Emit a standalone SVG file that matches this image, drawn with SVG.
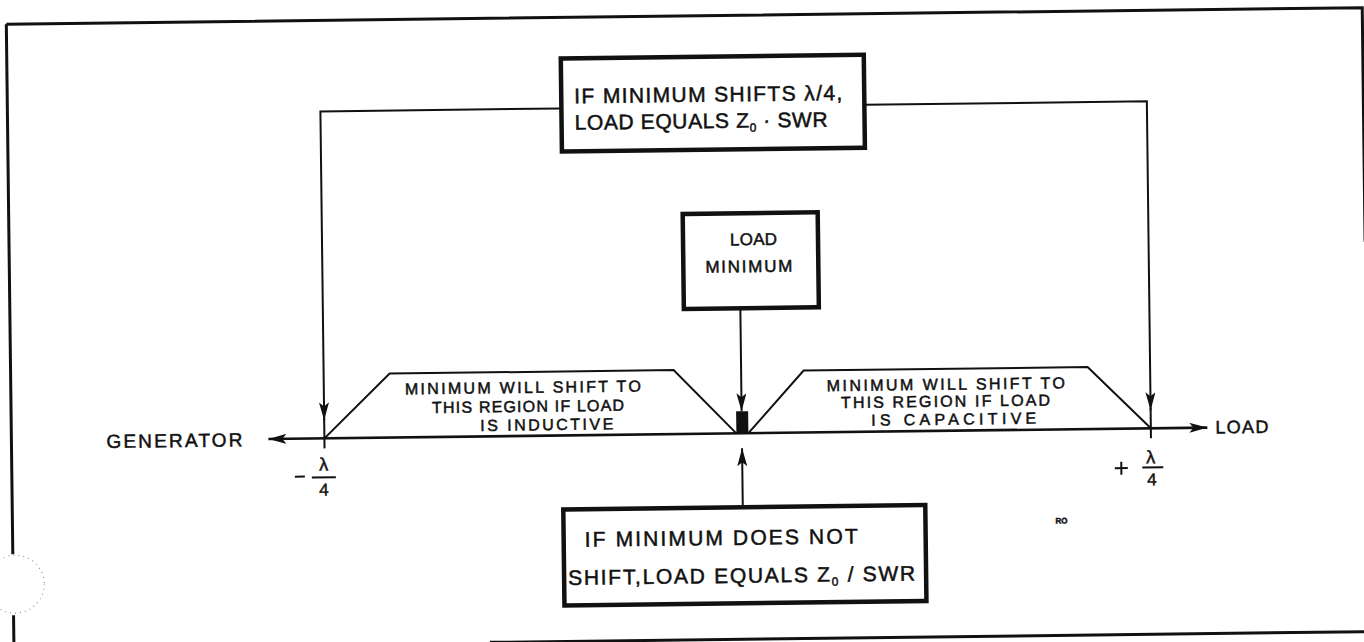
<svg xmlns="http://www.w3.org/2000/svg" width="1364" height="642" viewBox="0 0 1364 642">
<style>
.t{font-family:"Liberation Sans",Arial,sans-serif;fill:#111;stroke:#111;stroke-width:0.5;}
.box{fill:#fff;stroke:#111;stroke-width:4.5;}
.ln{fill:none;stroke:#111;stroke-width:2;}
.ax{fill:none;stroke:#111;stroke-width:2.6;}
.fr{fill:none;stroke:#111;stroke-width:3;}
.hole{fill:none;stroke:#888;stroke-width:1;stroke-dasharray:1 4;}
</style>
<defs>
<marker id="ah" viewBox="0 0 18 10" refX="18" refY="5" markerWidth="18" markerHeight="10" markerUnits="userSpaceOnUse" orient="auto-start-reverse">
<path d="M0,0 L18,5 L0,10 L4,5 Z" fill="#111"/>
</marker>
</defs>
<rect width="1364" height="642" fill="#fff"/>
<g transform="rotate(-0.7 682 321)">
<g id="frame">
<path class="fr" d="M10,16 H1366 V250"/>
<path class="fr" d="M10,16 V546"/>
<path class="fr" d="M10,607 V660"/>
<path class="fr" d="M486,640 H1372"/>
<circle class="hole" cx="12" cy="576" r="29"/>
</g>
<g id="connectors">
<path class="ln" d="M564,107 H323 V416" marker-end="url(#ah)"/>
<path class="ln" d="M867,107 H1149.5 V416" marker-end="url(#ah)"/>
<line class="ln" x1="323" y1="414" x2="323" y2="444"/>
<line class="ln" x1="1149.5" y1="414" x2="1149.5" y2="444"/>
<line class="ax" x1="1206" y1="434" x2="267" y2="434" marker-start="url(#ah)" marker-end="url(#ah)"/>
<path class="ln" d="M740.5,309 V412" marker-end="url(#ah)"/>
<path class="ln" d="M740.5,508 V449" marker-end="url(#ah)"/>
<polyline class="ln" points="323,434 389,370 673,370 735,434"/>
<polyline class="ln" points="747,434 803,372 1087,372 1149.5,434"/>
<rect x="735" y="412" width="12" height="22" fill="#111"/>
</g>
<g id="top-box">
<rect class="box" x="564" y="57" width="303" height="93"/>
<text class="t" x="577" y="102" font-size="21" textLength="268" lengthAdjust="spacing">IF MINIMUM SHIFTS λ/4,</text>
<text class="t" x="577" y="128.5" font-size="21" textLength="253" lengthAdjust="spacing">LOAD EQUALS  Z<tspan dy="4" font-size="12">0</tspan><tspan dy="-4"> · SWR</tspan></text>
</g>
<g id="load-minimum">
<rect class="box" x="684" y="214" width="135" height="95"/>
<text class="t" x="731" y="246" font-size="17" textLength="47" lengthAdjust="spacing">LOAD</text>
<text class="t" x="706" y="273" font-size="17" textLength="87" lengthAdjust="spacing">MINIMUM</text>
</g>
<g id="bottom-box">
<rect class="box" x="561" y="508" width="362" height="96"/>
<text class="t" x="582" y="545.5" font-size="21" textLength="273" lengthAdjust="spacing">IF MINIMUM DOES NOT</text>
<text class="t" x="565" y="583.5" font-size="21" textLength="347" lengthAdjust="spacing">SHIFT,LOAD EQUALS  Z<tspan dy="4" font-size="12">0</tspan><tspan dy="-4"> / SWR</tspan></text>
</g>
<g id="inductive-region">
<text class="t" x="404" y="391" font-size="16" textLength="236" lengthAdjust="spacing">MINIMUM WILL SHIFT TO</text>
<text class="t" x="431" y="410" font-size="16" textLength="192" lengthAdjust="spacing">THIS REGION IF LOAD</text>
<text class="t" x="479" y="428.5" font-size="16" textLength="133" lengthAdjust="spacing">IS INDUCTIVE</text>
</g>
<g id="capacitive-region">
<text class="t" x="826" y="393" font-size="16" textLength="238" lengthAdjust="spacing">MINIMUM WILL SHIFT TO</text>
<text class="t" x="840" y="410" font-size="16" textLength="209" lengthAdjust="spacing">THIS REGION IF LOAD</text>
<text class="t" x="870" y="428" font-size="16" textLength="165" lengthAdjust="spacing">IS  CAPACITIVE</text>
</g>
<g id="generator">
<text class="t" x="105" y="441" font-size="19" textLength="136" lengthAdjust="spacing">GENERATOR</text>
</g>
<g id="load">
<text class="t" x="1214" y="440" font-size="18" textLength="53" lengthAdjust="spacing">LOAD</text>
</g>
<g id="minus-quarter">
<line class="ln" x1="293" y1="472" x2="303" y2="472" stroke-width="2.5"/>
<text class="t" x="322" y="466" font-size="18" text-anchor="middle">λ</text>
<line class="ln" x1="310" y1="473" x2="334" y2="473"/>
<text class="t" x="322" y="491" font-size="17" text-anchor="middle">4</text>
</g>
<g id="plus-quarter">
<line class="ln" x1="1113" y1="473.5" x2="1126" y2="473.5" stroke-width="2.5"/>
<line class="ln" x1="1119.5" y1="467" x2="1119.5" y2="480" stroke-width="2.5"/>
<text class="t" x="1149" y="469" font-size="18" text-anchor="middle">λ</text>
<line class="ln" x1="1140.5" y1="473" x2="1161.5" y2="473"/>
<text class="t" x="1150" y="491" font-size="17" text-anchor="middle">4</text>
</g>
<text class="t" x="1053" y="528" font-size="8" font-weight="bold">RO</text>
</g>
</svg>
